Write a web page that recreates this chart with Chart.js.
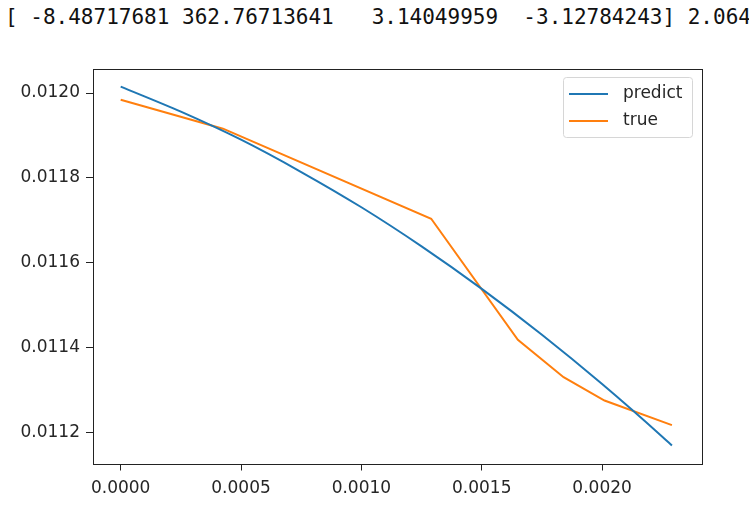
<!DOCTYPE html>
<html>
<head>
<meta charset="utf-8">
<script src="https://cdn.jsdelivr.net/npm/chart.js@4.4.1/dist/chart.umd.min.js"></script>
<style>
  html, body { margin: 0; padding: 0; background: #fff; }
  #wrap { position: relative; width: 749px; height: 508px; }
  #out {
    position: absolute; left: 5px; top: 5px;
    font-family: "DejaVu Sans Mono", monospace; font-size: 21px;
    white-space: pre; color: #111; overflow: hidden; width: 744px;
  }
  #grafica { position: absolute; left: 0; top: 0; }
</style>
</head>
<body>
<div id="wrap">
  <div id="out">[ -8.48717681 362.76713641   3.14049959  -3.12784243] 2.0641</div>
  <canvas id="grafica" width="749" height="508"></canvas>
</div>
<script>
const xTicks = [0, 0.0005, 0.0010, 0.0015, 0.0020];
const yTicks = [0.0112, 0.0114, 0.0116, 0.0118, 0.0120];

const predX = [0, 0.00025, 0.0005, 0.00075, 0.0010, 0.00125, 0.0015, 0.00175, 0.0020, 0.00225, 0.00229];
const predY = [0.012015, 0.011956, 0.011890, 0.011814, 0.011731, 0.011639, 0.011539, 0.011431, 0.011315, 0.011191, 0.011170];

const trueX = [0, 0.000425, 0.00129, 0.00165, 0.00184, 0.00201, 0.00229];
const trueY = [0.011984, 0.011916, 0.011704, 0.011419, 0.011331, 0.011276, 0.011218];

const etiquetas = ["predict", "true"];
const colores = ["#1f77b4", "#ff7f0e"];

function puntos(xs, ys) {
  return xs.map((x, i) => ({ x, y: ys[i] }));
}

const marco = {
  id: "marco",
  afterDraw(c) {
    const { ctx, chartArea: a } = c;
    ctx.save();
    ctx.strokeStyle = "#222";
    ctx.lineWidth = 1;
    ctx.strokeRect(Math.round(a.left) + 0.5, Math.round(a.top) + 0.5,
      Math.round(a.right - a.left), Math.round(a.bottom - a.top));

    // leyenda
    const bx = 563.5, by = 77.5, bw = 129, bh = 60;
    ctx.strokeStyle = "#d6d6d6";
    ctx.fillStyle = "rgba(255,255,255,0.8)";
    ctx.beginPath();
    ctx.roundRect(bx, by, bw, bh, 3);
    ctx.fill();
    ctx.stroke();
    ctx.font = "17px 'DejaVu Sans'";
    ctx.textBaseline = "middle";
    c.data.datasets.forEach((d, i) => {
      const y = 94 + i * 27;
      ctx.strokeStyle = d.borderColor;
      ctx.lineWidth = 2;
      ctx.beginPath();
      ctx.moveTo(569, y);
      ctx.lineTo(608, y);
      ctx.stroke();
      ctx.fillStyle = "#262626";
      ctx.fillText(d.label, 623, y);
    });
    ctx.restore();
  }
};

new Chart(document.getElementById("grafica"), {
  type: "line",
  data: {
    datasets: [
      {
        label: etiquetas[0],
        data: puntos(predX, predY),
        borderColor: colores[0],
        borderWidth: 2,
        pointRadius: 0,
        cubicInterpolationMode: "monotone"
      },
      {
        label: etiquetas[1],
        data: puntos(trueX, trueY),
        borderColor: colores[1],
        borderWidth: 2,
        pointRadius: 0,
        tension: 0
      }
    ]
  },
  options: {
    responsive: false,
    animation: false,
    layout: { padding: { top: 69, right: 47, left: 0, bottom: 0 } },
    plugins: { legend: { display: false }, tooltip: { enabled: false } },
    scales: {
      x: {
        type: "linear",
        min: -0.000115,
        max: 0.002415,
        afterBuildTicks: s => { s.ticks = xTicks.map(v => ({ value: v })); },
        afterFit: s => { s.height = 44.5; },
        grid: { drawOnChartArea: false, color: "#222", tickLength: 7, tickWidth: 1 },
        border: { display: false },
        ticks: {
          color: "#262626",
          font: { family: "DejaVu Sans", size: 17 },
          padding: 8,
          maxRotation: 0,
          callback: v => v.toFixed(4)
        }
      },
      y: {
        type: "linear",
        min: 0.0111278,
        max: 0.0120565,
        afterBuildTicks: s => { s.ticks = yTicks.map(v => ({ value: v })); },
        afterFit: s => { s.width = 93; },
        grid: { drawOnChartArea: false, color: "#222", tickLength: 7, tickWidth: 1 },
        border: { display: false },
        ticks: {
          color: "#262626",
          font: { family: "DejaVu Sans", size: 17 },
          padding: 6,
          callback: v => v.toFixed(4)
        }
      }
    }
  },
  plugins: [marco]
});
</script>
</body>
</html>
